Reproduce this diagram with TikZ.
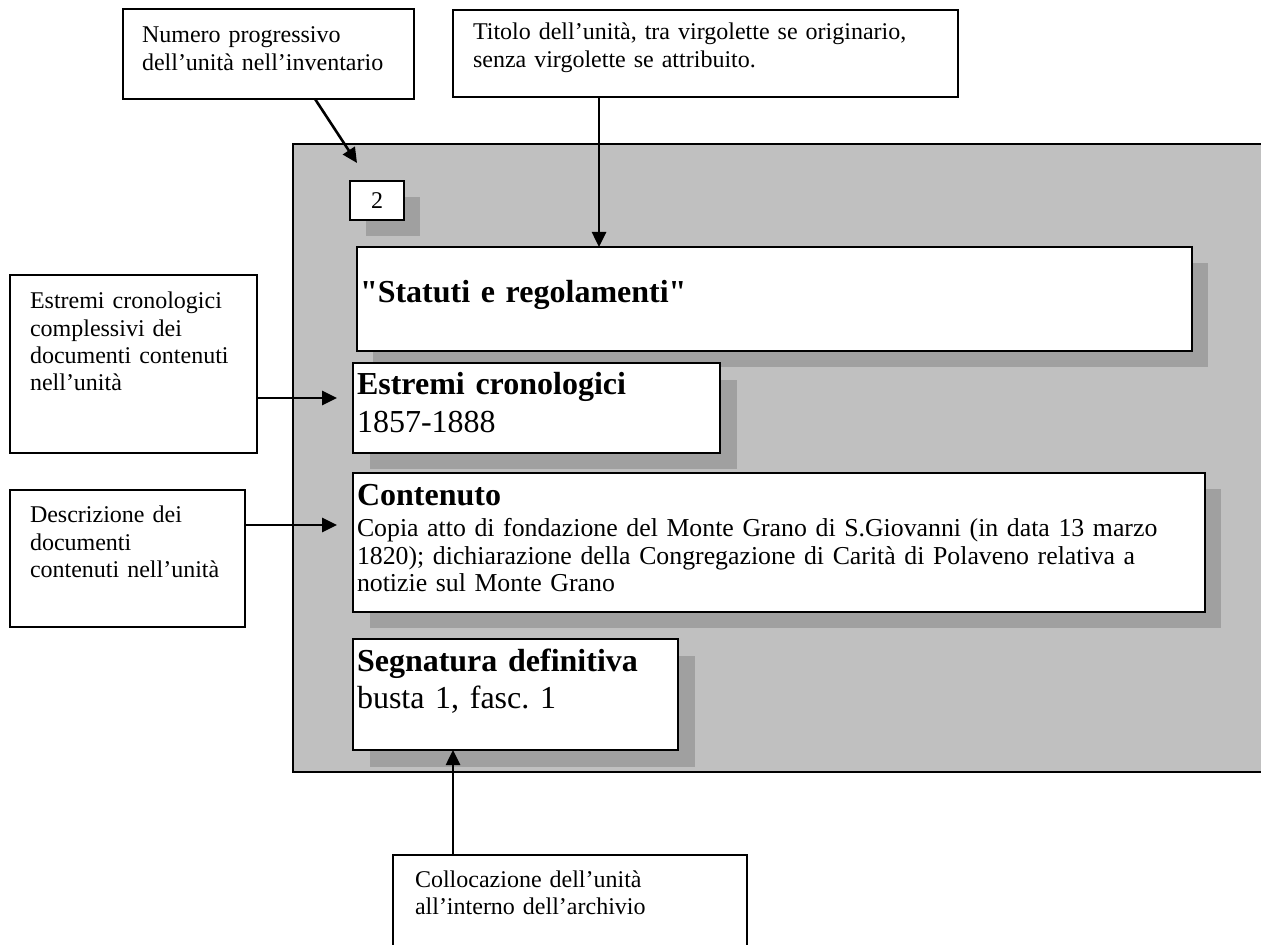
\documentclass[tikz,border=0pt]{standalone}
\usepackage{fontspec}
\setmainfont{Liberation Serif}[Ligatures=TeXOff]
\frenchspacing
\usetikzlibrary{arrows.meta,calc}
\definecolor{panelgray}{HTML}{C0C0C0}
\definecolor{shadowgray}{HTML}{A0A0A0}
\tikzset{
  box/.style={draw, line width=0.9pt, fill=white, anchor=north west, inner sep=0pt, outer sep=0pt},
  lbl/.style={anchor=base west, inner sep=0pt, outer sep=0pt, text width=300pt, align=left,
              font=\fontsize{12}{13.6}\selectfont},
  hdr/.style={anchor=base west, inner sep=0pt, outer sep=0pt, text width=400pt, align=left,
              font=\fontsize{16}{18.5}\selectfont},
  body/.style={anchor=base west, inner sep=0pt, outer sep=0pt, text width=440pt, align=left,
              font=\fontsize{12.9}{14}\selectfont},
  arr/.style={line width=1.3pt, -{Triangle[length=7.5pt,width=7pt]}},
}
\begin{document}
\begin{tikzpicture}[x=0.5pt,y=-0.5pt]
\useasboundingbox (0,0) rectangle (1261,945);
\clip (0,0) rectangle (1261,945);

% gray panel
\fill[panelgray] (293,144) rectangle (1300,772);
\draw[line width=0.9pt] (1300,144) -- (293,144) -- (293,772) -- (1300,772);

% shadows
\fill[shadowgray] (366,197) rectangle (420,236);
\fill[shadowgray] (373,263) rectangle (1208,367);
\fill[shadowgray] (370,380) rectangle (737,469);
\fill[shadowgray] (370,489) rectangle (1221,628);
\fill[shadowgray] (370,656) rectangle (695,767);

% cards inside the panel
\node[box, minimum width=27pt, minimum height=19.5pt] (numcard) at (350,181) {};
\node[inner sep=0pt, font=\fontsize{12}{13.6}\selectfont] (numcardt) at (numcard.center) {2};

\node[box, minimum width=417.5pt, minimum height=52pt] (title) at (357,247) {};
\node[hdr] (titlet) at (360,303) {\bfseries "Statuti e regolamenti"};

\node[box, minimum width=183.5pt, minimum height=45pt] (est) at (353,363) {};
\node[hdr, font=\fontsize{16}{19}\selectfont] (estt) at (357,395) {\textbf{Estremi cronologici}\\1857-1888};

\node[box, minimum width=426pt, minimum height=69.5pt] (cont) at (353,473) {};
\node[hdr] (contt) at (357,506) {\bfseries Contenuto};
\node[body] (contb) at (357,536) {Copia atto di fondazione del Monte Grano di S.Giovanni (in data 13 marzo\\
1820); dichiarazione della Congregazione di Carità di Polaveno relativa a\\
notizie sul Monte Grano};

\node[box, minimum width=162.5pt, minimum height=55.5pt] (seg) at (353,639) {};
\node[hdr] (segt) at (357,671) {\textbf{Segnatura definitiva}\\busta 1, fasc. 1};

% annotation boxes
\node[box, minimum width=145.5pt, minimum height=45pt] (numann) at (123,9) {};
\node[lbl] (numannt) at (142,43) {Numero progressivo\\dell’unità nell’inventario};

\node[box, minimum width=252.5pt, minimum height=43.5pt] (titann) at (453,10) {};
\node[lbl] (titannt) at (473,40) {Titolo dell’unità, tra virgolette se originario,\\senza virgolette se attribuito.};

\node[box, minimum width=123.5pt, minimum height=89pt] (estann) at (10,275) {};
\node[lbl] (estannt) at (30,309) {Estremi cronologici\\complessivi dei\\documenti contenuti\\nell’unità};

\node[box, minimum width=117.5pt, minimum height=68.5pt] (desann) at (10,490) {};
\node[lbl] (desannt) at (30,523) {Descrizione dei\\documenti\\contenuti nell’unità};

\node[box, minimum width=177pt, minimum height=60pt] (colann) at (393,855) {};
\node[lbl] (colannt) at (415,887) {Collocazione dell’unità\\all’interno dell’archivio};

% connectors
\coordinate (numtip) at (357,163);
\draw[arr] ([xshift=96pt]numann.south west) -- (numtip);

\coordinate (titstart) at ([xshift=73pt]titann.south west);
\draw[arr] (titstart) -- (titstart |- title.north);

\coordinate (eststart) at ([yshift=-61.5pt]estann.north east);
\coordinate (esttip) at (337,398);
\draw[arr] (eststart) -- (esttip);

\coordinate (desstart) at ([yshift=-17.5pt]desann.north east);
\coordinate (destip) at (337,525);
\draw[arr] (desstart) -- (destip);

\coordinate (colstart) at ([xshift=30pt]colann.north west);
\draw[arr] (colstart) -- (colstart |- seg.south);
\end{tikzpicture}
\end{document}
